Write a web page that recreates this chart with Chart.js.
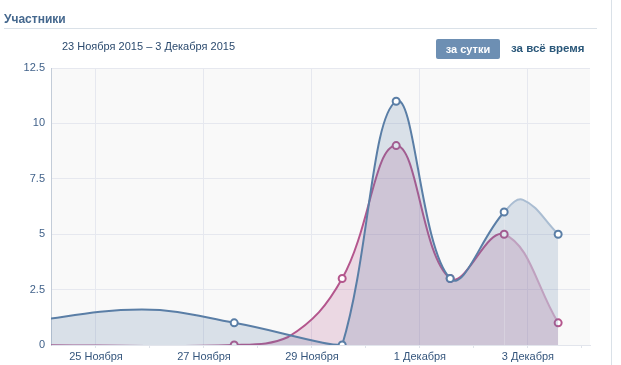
<!DOCTYPE html>
<html>
<head>
<meta charset="utf-8">
<script src="https://cdn.jsdelivr.net/npm/chart.js@4/dist/chart.umd.min.js"></script>
<style>
  body { margin: 0; width: 621px; height: 365px; position: relative; background: #fff; overflow: hidden;
         font-family: Tahoma, "Liberation Sans", Arial, sans-serif; }
  #myLine { position: absolute; left: 0; top: 0; }
  .title { position: absolute; left: 4px; top: 12px; font-size: 12px; font-weight: bold; color: #45688e; }
  .rule { position: absolute; left: 4px; top: 28px; width: 593px; height: 1px; background: #dae1e8; }
  .side { position: absolute; left: 611px; top: 0; width: 1px; height: 365px; background: #dae1e8; }
  .range { position: absolute; left: 62px; top: 40px; font-size: 11px; color: #2b4a6e; }
  .btn { position: absolute; left: 436px; top: 39px; width: 64px; height: 20px; line-height: 20px; text-align: center;
         background: #6d8fb3; border-radius: 2px; color: #fff; font-size: 11px; font-weight: bold; }
  .all { position: absolute; left: 511px; top: 42px; font-size: 11.5px; font-weight: bold; color: #2b587a; }
</style>
</head>
<body>
<canvas id="myLine" width="621" height="365"></canvas>
<div class="title">Участники</div>
<div class="rule"></div>
<div class="side"></div>
<div class="range">23 Ноября 2015 – 3 Декабря 2015</div>
<div class="btn">за сутки</div>
<div class="all">за всё время</div>
<script>
const dayLabels = ['23 Ноября', '24 Ноября', '25 Ноября', '26 Ноября', '27 Ноября', '28 Ноября',
  '29 Ноября', '30 Ноября', '1 Декабря', '2 Декабря', '3 Декабря', '4 Декабря'];
const yTicks = [0, 2.5, 5, 7.5, 10, 12.5];

const joinedDays = [0.56, 2.85, 4.56, 6.2, 6.56, 7.56, 8.56, 9.56, 9.91, 10.56];
const joinedValues = [1, 1.6, 1, 0.1, 0, 11, 3, 6, 6.55, 5];
const joinedMarked = [false, false, true, false, true, true, true, true, false, true];

const leftDays = [0.56, 4.56, 5.56, 6.56, 7.56, 8.56, 9.56, 10.56];
const leftValues = [0, 0, 0.36, 3, 9, 3, 5, 1];
const leftMarked = [false, true, false, true, true, true, true, true];

// the last day is not complete yet, drawn faded
const fadeFromDay = 9.56;

const blue = '#5a7ea6';
const pink = '#b4568d';

const my_line = document.getElementById('myLine');

const plotBg = {
  id: 'plotBg',
  beforeDraw(chart) {
    const a = chart.chartArea;
    chart.ctx.save();
    chart.ctx.fillStyle = '#f9f9f9';
    chart.ctx.fillRect(a.left, a.top, a.right - a.left, a.bottom - a.top);
    chart.ctx.restore();
  }
};

function series(days, values) {
  return days.map((d, i) => ({ x: d, y: values[i] }));
}

new Chart(my_line, {
  type: 'line',
  data: {
    datasets: [
      {
        label: 'Вступили',
        data: series(joinedDays, joinedValues),
        borderColor: blue,
        backgroundColor: 'rgba(90,126,166,0.2)',
        fill: 'origin',
        borderWidth: 2,
        tension: 0.4,
        pointRadius: ctx => joinedMarked[ctx.dataIndex] ? 3.5 : 0,
        pointBorderWidth: 2,
        pointBackgroundColor: '#fff',
        pointBorderColor: blue,
        segment: {
          borderColor: ctx => ctx.p0.parsed.x >= fadeFromDay ? '#aabdd2' : undefined
        }
      },
      {
        label: 'Вышли',
        data: series(leftDays, leftValues),
        borderColor: pink,
        backgroundColor: 'rgba(180,86,141,0.2)',
        fill: 'origin',
        borderWidth: 2,
        tension: 0.4,
        pointRadius: ctx => leftMarked[ctx.dataIndex] ? 3.5 : 0,
        pointBorderWidth: 2,
        pointBackgroundColor: '#fff',
        pointBorderColor: pink,
        segment: {
          borderColor: ctx => ctx.p0.parsed.x >= fadeFromDay ? '#d9aac6' : undefined
        }
      }
    ]
  },
  options: {
    responsive: false,
    animation: false,
    devicePixelRatio: 1,
    layout: { padding: { top: 68, right: 31, left: 0, bottom: 0 } },
    plugins: { legend: { display: false }, tooltip: { enabled: false } },
    scales: {
      x: {
        type: 'linear',
        min: 1.167,
        max: 11.15,
        afterBuildTicks: scale => { scale.ticks = [2, 3, 4, 5, 6, 7, 8, 9, 10, 11].map(v => ({ value: v })); },
        afterFit: scale => { scale.height = 20; },
        border: { color: '#e2e5ec' },
        grid: {
          color: ctx => ctx.tick && ctx.tick.value % 2 === 0 ? '#e6e8ef' : 'rgba(0,0,0,0)',
          tickColor: '#dfe3ea',
          tickLength: 3
        },
        ticks: {
          padding: 2,
          maxRotation: 0,
          autoSkip: false,
          color: '#34557c',
          font: { family: 'Tahoma, "Liberation Sans", Arial, sans-serif', size: 11 },
          callback: v => v % 2 === 0 ? dayLabels[v] : ''
        }
      },
      y: {
        min: 0,
        max: 12.5,
        afterBuildTicks: scale => { scale.ticks = yTicks.map(v => ({ value: v })); },
        afterFit: scale => { scale.width = 51; },
        border: { color: '#c3ccd8' },
        grid: { color: '#e6e8ef', drawTicks: false },
        ticks: {
          padding: 6,
          color: '#41628a',
          font: { family: 'Tahoma, "Liberation Sans", Arial, sans-serif', size: 11 }
        }
      }
    }
  },
  plugins: [plotBg]
});
</script>
</body>
</html>
